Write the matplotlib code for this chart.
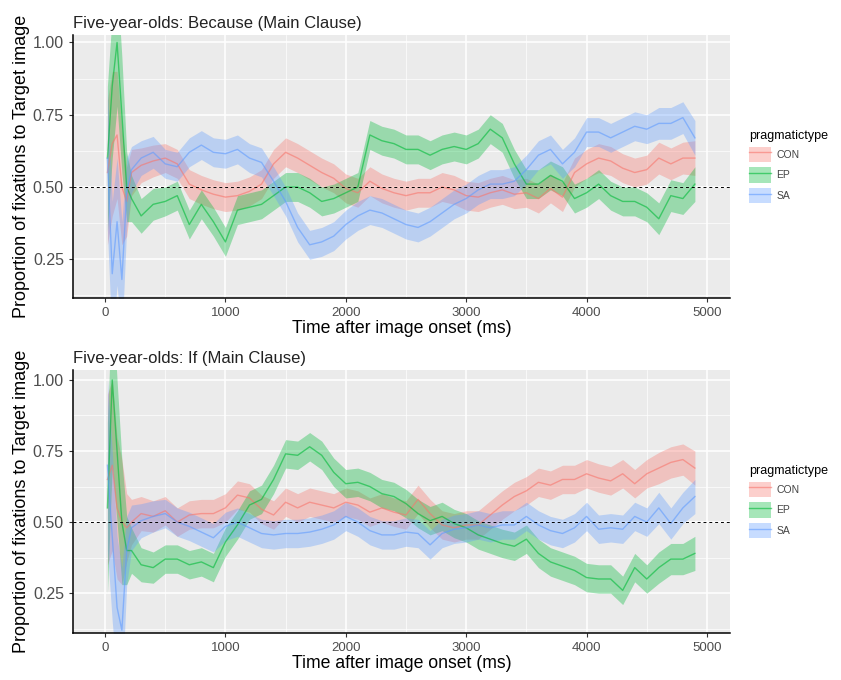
import matplotlib
matplotlib.use("Agg")
import matplotlib.pyplot as plt
from matplotlib.patches import Patch
from matplotlib.lines import Line2D
from matplotlib.ticker import MultipleLocator

plt.rcParams['font.family'] = ['Liberation Sans', 'DejaVu Sans']

# time points (ms after image onset)
time_ms = [20, 60, 100, 140, 180, 220,
           300, 400, 500, 600, 700, 800, 900, 1000, 1100, 1200, 1300, 1400,
           1500, 1600, 1700, 1800, 1900, 2000, 2100, 2200, 2300, 2400, 2500,
           2600, 2700, 2800, 2900, 3000, 3100, 3200, 3300, 3400, 3500, 3600,
           3700, 3800, 3900, 4000, 4100, 4200, 4300, 4400, 4500, 4600, 4700,
           4800, 4900]

# Panel 1: Because (Main Clause)
because_con = [0.55, 0.65, 0.68, 0.50, 0.45, 0.55,
               0.575, 0.59, 0.60, 0.58, 0.51, 0.49, 0.475, 0.465, 0.47, 0.485,
               0.51, 0.58, 0.62, 0.60, 0.575, 0.55, 0.53, 0.495, 0.48, 0.52,
               0.495, 0.48, 0.47, 0.48, 0.48, 0.50, 0.49, 0.47, 0.465, 0.48,
               0.49, 0.475, 0.48, 0.46, 0.495, 0.465, 0.55, 0.58, 0.60, 0.59,
               0.565, 0.55, 0.56, 0.60, 0.58, 0.60, 0.60]
because_ep = [0.60, 0.85, 1.00, 0.75, 0.50, 0.46,
              0.40, 0.44, 0.45, 0.47, 0.37, 0.44, 0.38, 0.31, 0.42, 0.43,
              0.44, 0.47, 0.50, 0.50, 0.48, 0.45, 0.46, 0.48, 0.50, 0.68,
              0.66, 0.65, 0.63, 0.63, 0.61, 0.63, 0.64, 0.63, 0.65, 0.70,
              0.67, 0.58, 0.51, 0.51, 0.54, 0.52, 0.46, 0.48, 0.51, 0.47,
              0.45, 0.45, 0.43, 0.39, 0.47, 0.46, 0.51]
because_sa = [0.60, 0.20, 0.38, 0.18, 0.48, 0.56,
              0.60, 0.62, 0.58, 0.57, 0.62, 0.645, 0.62, 0.615, 0.63, 0.60,
              0.585, 0.52, 0.45, 0.36, 0.30, 0.31, 0.33, 0.37, 0.40, 0.42,
              0.41, 0.39, 0.37, 0.36, 0.38, 0.41, 0.44, 0.46, 0.49, 0.51,
              0.51, 0.52, 0.56, 0.61, 0.63, 0.58, 0.62, 0.69, 0.69, 0.67,
              0.69, 0.71, 0.70, 0.72, 0.72, 0.74, 0.67]
because_half = [0.25, 0.25, 0.22, 0.20, 0.12, 0.08,
                0.06, 0.055, 0.05, 0.05, 0.05, 0.05, 0.05, 0.05, 0.05, 0.05,
                0.05, 0.05, 0.05, 0.05, 0.05, 0.05, 0.05, 0.05, 0.05, 0.05,
                0.05, 0.05, 0.05, 0.05, 0.05, 0.05, 0.05, 0.05, 0.05, 0.05,
                0.05, 0.05, 0.05, 0.05, 0.05, 0.05, 0.05, 0.05, 0.05, 0.05,
                0.05, 0.05, 0.05, 0.055, 0.055, 0.055, 0.06]

# Panel 2: If (Main Clause)
if_con = [0.65, 0.70, 0.55, 0.50, 0.48, 0.50,
          0.53, 0.52, 0.54, 0.50, 0.525, 0.53, 0.53, 0.55, 0.595, 0.585,
          0.545, 0.525, 0.57, 0.55, 0.57, 0.56, 0.55, 0.57, 0.56, 0.535,
          0.55, 0.535, 0.525, 0.58, 0.53, 0.49, 0.48, 0.49, 0.49, 0.525,
          0.56, 0.59, 0.61, 0.64, 0.63, 0.65, 0.65, 0.67, 0.655, 0.645,
          0.67, 0.635, 0.67, 0.69, 0.71, 0.72, 0.69]
if_ep = [0.55, 1.00, 0.75, 0.50, 0.40, 0.40,
         0.35, 0.34, 0.37, 0.37, 0.35, 0.36, 0.34, 0.43, 0.49, 0.56,
         0.58, 0.65, 0.74, 0.735, 0.765, 0.735, 0.675, 0.635, 0.64, 0.625,
         0.60, 0.59, 0.565, 0.53, 0.505, 0.52, 0.495, 0.48, 0.455, 0.44,
         0.425, 0.415, 0.44, 0.39, 0.36, 0.345, 0.33, 0.305, 0.30, 0.30,
         0.26, 0.34, 0.30, 0.34, 0.37, 0.37, 0.39]
if_sa = [0.70, 0.45, 0.20, 0.12, 0.40, 0.48,
         0.505, 0.52, 0.53, 0.50, 0.485, 0.465, 0.445, 0.485, 0.50, 0.48,
         0.46, 0.455, 0.46, 0.46, 0.465, 0.475, 0.49, 0.52, 0.50, 0.47,
         0.455, 0.455, 0.465, 0.46, 0.42, 0.46, 0.475, 0.48, 0.49, 0.48,
         0.49, 0.49, 0.52, 0.49, 0.47, 0.46, 0.48, 0.52, 0.475, 0.48,
         0.475, 0.52, 0.50, 0.55, 0.495, 0.55, 0.59]
if_half = [0.30, 0.30, 0.25, 0.22, 0.12, 0.08,
           0.06, 0.055, 0.05, 0.05, 0.05, 0.05, 0.05, 0.05, 0.05, 0.05,
           0.05, 0.05, 0.05, 0.05, 0.05, 0.05, 0.05, 0.05, 0.05, 0.05,
           0.05, 0.05, 0.05, 0.05, 0.05, 0.05, 0.05, 0.05, 0.05, 0.05,
           0.05, 0.05, 0.05, 0.05, 0.05, 0.05, 0.05, 0.05, 0.05, 0.05,
           0.05, 0.05, 0.05, 0.055, 0.055, 0.055, 0.06]

groups = ["CON", "EP", "SA"]
colors = {"CON": "#F8766D", "EP": "#00BA38", "SA": "#619CFF"}

panels = [
    ("Five-year-olds: Because (Main Clause)",
     {"CON": because_con, "EP": because_ep, "SA": because_sa}, because_half,
     [0.0868, 0.5618, 0.781, 0.3868], (0.116, 1.026)),
    ("Five-year-olds: If (Main Clause)",
     {"CON": if_con, "EP": if_ep, "SA": if_sa}, if_half,
     [0.0868, 0.0691, 0.781, 0.3868], (0.11, 1.035)),
]

fig = plt.figure(figsize=(8.41, 6.8), dpi=100)

for title, series, half, rect, ylim in panels:
    ax = fig.add_axes(rect)
    ax.set_facecolor("#EBEBEB")
    for g in groups:
        y = series[g]
        lo = [v - h for v, h in zip(y, half)]
        hi = [v + h for v, h in zip(y, half)]
        ax.fill_between(time_ms, lo, hi, color=colors[g], alpha=0.35,
                        linewidth=0, zorder=2)
    for g in groups:
        ax.plot(time_ms, series[g], color=colors[g], alpha=0.6, lw=1.0, zorder=3)
    ax.axhline(0.5, color="black", lw=0.7, ls=(0, (3, 3)), zorder=4)

    ax.set_xlim(-266, 5190)
    ax.set_ylim(*ylim)
    ax.set_xticks([0, 1000, 2000, 3000, 4000, 5000])
    ax.set_yticks([0.25, 0.50, 0.75, 1.00])
    ax.set_yticklabels(["0.25", "0.50", "0.75", "1.00"])
    ax.xaxis.set_minor_locator(MultipleLocator(500))
    ax.yaxis.set_minor_locator(MultipleLocator(0.125))
    ax.grid(which="major", color="white", lw=1.1, zorder=0)
    ax.grid(which="minor", color="white", lw=0.5, zorder=0)
    ax.set_axisbelow(True)
    for s in ["top", "right"]:
        ax.spines[s].set_visible(False)
    for s in ["left", "bottom"]:
        ax.spines[s].set_color("black")
        ax.spines[s].set_linewidth(1.1)
    ax.tick_params(which="major", length=3, color="#333333", labelcolor="#4D4D4D")
    ax.tick_params(axis="y", labelsize=11.5)
    ax.tick_params(axis="x", labelsize=9.5)
    ax.tick_params(which="minor", length=0)

    ax.set_title(title, loc="left", fontsize=12, color="#222222", pad=5)
    ax.set_xlabel("Time after image onset (ms)", fontsize=12.7, labelpad=1)
    ax.set_ylabel("Proportion of fixations to Target image", fontsize=13,
                  labelpad=2)

    handles = [(Patch(facecolor=colors[g], alpha=0.35, edgecolor="none"),
                Line2D([], [], color=colors[g], alpha=0.6, lw=1.0))
               for g in groups]
    leg = ax.legend(handles, groups, title="pragmatictype", loc="center left",
                    bbox_to_anchor=(1.02, 0.5), frameon=False, fontsize=7.5,
                    title_fontsize=9, handlelength=2.1, handleheight=1.9,
                    labelspacing=0.5, handletextpad=0.5, borderaxespad=0.2)
    leg._legend_box.align = "left"
    for t in leg.get_texts():
        t.set_color("#444444")

fig.savefig("out.png", dpi=100)
